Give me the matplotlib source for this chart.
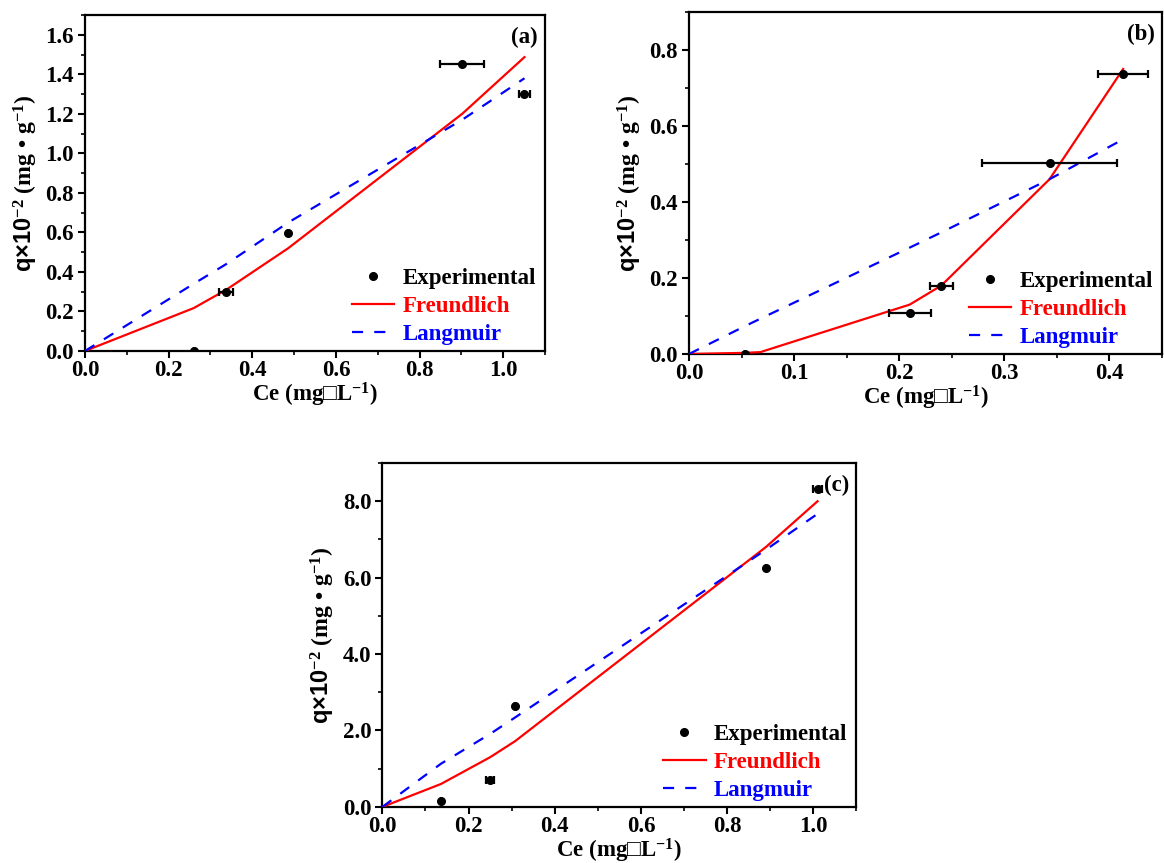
import matplotlib
matplotlib.use("Agg")
import matplotlib.pyplot as plt
from matplotlib.lines import Line2D
from matplotlib.ticker import MultipleLocator, FormatStrFormatter

plt.rcParams['font.family'] = ['Liberation Serif', 'DejaVu Serif']
plt.rcParams['font.weight'] = 'bold'
plt.rcParams['mathtext.fontset'] = 'custom'
plt.rcParams['mathtext.rm'] = 'Liberation Serif:bold'
plt.rcParams['mathtext.sf'] = 'Liberation Sans'
plt.rcParams['mathtext.default'] = 'rm'

# ---- panel (a) ----
a_exp_x = [0.26, 0.338, 0.486, 0.902, 1.051]
a_exp_y = [0.0, 0.296, 0.596, 1.453, 1.299]
a_exp_xerr = [0.0, 0.017, 0.0, 0.052, 0.013]
a_fit_x = [0.0, 0.26, 0.338, 0.486, 0.902, 1.051]
a_freund = [0.0, 0.217, 0.31, 0.52, 1.20, 1.487]
a_lang = [0.0, 0.34, 0.44, 0.65, 1.17, 1.38]

# ---- panel (b) ----
b_exp_x = [0.053, 0.21, 0.24, 0.343, 0.413]
b_exp_y = [0.0, 0.107, 0.178, 0.503, 0.738]
b_exp_xerr = [0.0, 0.02, 0.011, 0.064, 0.024]
b_fit_x = [0.0, 0.053, 0.068, 0.21, 0.24, 0.343, 0.413]
b_freund = [0.0, 0.003, 0.005, 0.13, 0.18, 0.46, 0.75]
b_lang = [0.0, 0.073, 0.093, 0.28, 0.32, 0.46, 0.565]

# ---- panel (c) ----
c_exp_x = [0.136, 0.25, 0.308, 0.89, 1.01]
c_exp_y = [0.15, 0.70, 2.65, 6.26, 8.33]
c_exp_xerr = [0.0, 0.01, 0.0, 0.0, 0.01]
c_fit_x = [0.0, 0.136, 0.25, 0.308, 0.89, 1.01]
c_freund = [0.0, 0.60, 1.30, 1.72, 6.80, 8.0]
c_lang = [0.0, 1.13, 1.91, 2.34, 6.73, 7.67]

FS = 16.5
DASH = (0, (5, 5))


def draw_panel(ax, ex, ey, exerr, fx, fr, la, xlim, ylim, xmaj, xmin, ymaj, ymin,
               tag):
    ax.errorbar(ex, ey, xerr=exerr, fmt='o', color='black', ms=5.5,
                elinewidth=1.6, capsize=3, capthick=1.6, zorder=4)
    ax.plot(fx, fr, color='red', lw=1.6, zorder=3)
    ax.plot(fx, la, color='blue', lw=1.6, ls=DASH, zorder=3)
    ax.set_xlim(*xlim)
    ax.set_ylim(*ylim)
    ax.xaxis.set_major_locator(MultipleLocator(xmaj))
    ax.xaxis.set_minor_locator(MultipleLocator(xmin))
    ax.yaxis.set_major_locator(MultipleLocator(ymaj))
    ax.yaxis.set_minor_locator(MultipleLocator(ymin))
    ax.xaxis.set_major_formatter(FormatStrFormatter('%.1f'))
    ax.yaxis.set_major_formatter(FormatStrFormatter('%.1f'))
    ax.tick_params(which='major', direction='out', length=5, width=1.5,
                   labelsize=FS, pad=3)
    ax.tick_params(axis='x', which='major', pad=1.5)
    ax.tick_params(which='minor', direction='out', length=3, width=1.2)
    for lab in ax.get_xticklabels() + ax.get_yticklabels():
        lab.set_fontweight('bold')
    for sp in ax.spines.values():
        sp.set_linewidth(1.6)
    ax.set_xlabel('Ce (mg\u25a1L$^{-1}$)', fontsize=FS, fontweight='bold',
                  labelpad=0)
    ax.set_ylabel('$\\mathsf{q{\\times}10}^{-2}$ (mg \u2022 g$^{-1}$)',
                  fontsize=FS + 0.5, fontweight='bold', labelpad=4)
    ax.text(0.985, 0.965, tag, transform=ax.transAxes, ha='right', va='top',
            fontsize=FS, fontweight='bold')
    handles = [
        Line2D([], [], ls='none', marker='o', color='black', ms=5.5),
        Line2D([], [], color='red', lw=1.6),
        Line2D([], [], color='blue', lw=1.6, ls=DASH),
    ]
    labels = ['Experimental', 'Freundlich', 'Langmuir']
    leg = ax.legend(handles, labels, loc='lower right',
                    bbox_to_anchor=(1.0, -0.01), frameon=False,
                    prop={'size': FS, 'weight': 'bold'}, handlelength=1.85,
                    handletextpad=0.35, labelspacing=0.3, borderaxespad=0.0)
    for txt, col in zip(leg.get_texts(), ['black', 'red', 'blue']):
        txt.set_color(col)


fig = plt.figure(figsize=(11.64, 8.63), dpi=100)

ax_a = fig.add_axes([0.0730, 0.5933, 0.3952, 0.3893])
draw_panel(ax_a, a_exp_x, a_exp_y, a_exp_xerr, a_fit_x, a_freund, a_lang,
           (0, 1.1), (0, 1.7), 0.2, 0.1, 0.2, 0.1, '(a)')

ax_b = fig.add_axes([0.5919, 0.5898, 0.4064, 0.3963])
draw_panel(ax_b, b_exp_x, b_exp_y, b_exp_xerr, b_fit_x, b_freund, b_lang,
           (0, 0.45), (0, 0.9), 0.1, 0.05, 0.2, 0.1, '(b)')

ax_c = fig.add_axes([0.3285, 0.0650, 0.4072, 0.3985])
draw_panel(ax_c, c_exp_x, c_exp_y, c_exp_xerr, c_fit_x, c_freund, c_lang,
           (0, 1.1), (0, 9.0), 0.2, 0.1, 2.0, 1.0, '(c)')

fig.savefig('out.png', dpi=100)
